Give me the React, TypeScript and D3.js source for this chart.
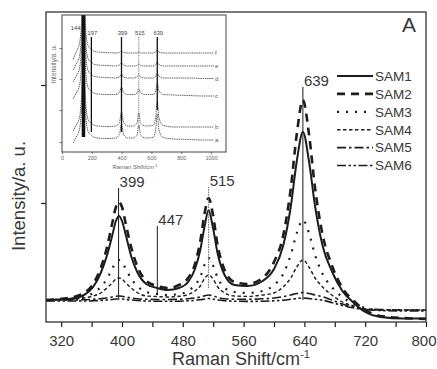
import React, { useEffect, useRef } from 'react';
import * as d3 from 'd3';

// main spectra: Raman shift (cm-1) and intensity (a.u.)
const shifts = [300, 330, 350, 362, 372, 380, 387, 392, 396, 400, 405, 412, 420, 432, 446, 460, 475, 487, 496, 503, 509, 514, 519, 526, 535, 548, 565, 585, 600, 612, 622, 630, 638, 646, 654, 664, 676, 690, 705, 720, 740, 770, 800];
const sam1 = [22, 23, 27, 35, 49, 66, 86, 101, 106, 101, 87, 66, 50, 38, 34, 32, 34, 40, 53, 72, 97, 112, 97, 68, 47, 37, 36, 41, 53, 76, 115, 161, 190, 161, 116, 76, 51, 31, 19, 10, 5, 3.5, 3.5];
const sam2 = [22, 24, 29, 38, 54, 74, 98, 115, 120, 115, 98, 75, 56, 41, 36, 34, 37, 44, 58, 81, 110, 124, 110, 76, 52, 40, 38, 44, 60, 86, 133, 188, 222, 188, 134, 87, 57, 34, 21, 12, 6, 4, 3];
const sam3 = [22, 23, 25, 29, 35, 43, 53, 60, 62, 60, 53, 43.5, 36, 30, 28, 27, 28, 31, 37, 45, 58, 64, 58, 44, 34, 30, 29, 31, 37, 48, 67, 89, 102, 89, 67, 48, 35, 25, 18, 14, 12, 12, 12];
const sam4 = [22, 22.5, 24, 26, 29, 34, 39, 43, 44, 43, 39, 34, 29.5, 26, 25.5, 25, 25.7, 27.5, 31, 36, 44, 47, 44, 35, 29, 26, 25.6, 27, 29, 35, 44, 55, 62, 55, 44, 35, 27, 20, 16, 13, 12, 12, 12];
const sam5 = [22, 22, 22.3, 22.7, 23.3, 24, 25, 25.8, 26, 25.8, 25, 24, 23.3, 22.8, 22.5, 22.5, 22.7, 23.2, 24, 25, 26.3, 27, 26.3, 24.5, 23.3, 22.8, 22.8, 23.2, 24, 25.3, 27, 28.5, 29.5, 28.5, 27, 25.3, 22, 18, 15, 13, 12.5, 12, 12];
const sam6 = [21, 21, 21, 21.2, 21.5, 22, 22.5, 23, 23, 23, 22.5, 22, 21.5, 21, 20.8, 20.8, 20.8, 21.2, 21.6, 22.3, 23, 23.5, 23, 22, 21.3, 20.8, 20.6, 20.8, 21.2, 21.8, 22.7, 23.5, 24, 23.5, 22.7, 21.8, 19.5, 16.5, 14, 12.5, 11.5, 11, 11];
const seriesNames = ['SAM1', 'SAM2', 'SAM3', 'SAM4', 'SAM5', 'SAM6'];

const xTicks = [320, 360, 400, 440, 480, 520, 560, 600, 640, 680, 720, 760, 800];
const xLabels = [320, 400, 480, 560, 640, 720, 800];
const yTicks = [119, 237];

// peak markers: label, position, bottom and top of the marker line
const peakMarks = [
  { label: '399', at: 395.5, low: 24, high: 134 },
  { label: '447', at: 446.5, low: 27, high: 96 },
  { label: '515', at: 514, low: 34, high: 135 },
  { label: '639', at: 638, low: 22, high: 235 },
];

// inset spectra a-f
const insetShifts = [75, 95, 110, 122, 132, 138, 144, 150, 158, 170, 185, 197, 210, 240, 300, 360, 385, 399, 413, 440, 480, 503, 515, 527, 560, 610, 628, 639, 650, 680, 750, 850, 950, 1020];
const insetA = [9, 15, 19, 27, 48, 83, 213, 83, 41, 23, 18, 17, 15, 14, 13.5, 14, 17.5, 28, 17.5, 14, 14, 17, 27, 17, 14, 14.5, 22, 38, 22, 14.5, 13, 12.5, 12, 12];
const insetB = [21, 27, 31, 39, 60, 95, 225, 95, 53, 35, 30, 29, 27, 26, 25.5, 26, 29.5, 40, 29.5, 26, 26, 29, 39, 29, 26, 26.5, 34, 51, 34, 26.5, 25, 25, 25, 25];
const insetC = [53, 59, 63, 71, 92, 127, 257, 127, 85, 67, 62, 61, 59, 58, 57.5, 57.5, 59.5, 65, 59.5, 57.5, 57.5, 59, 63, 59, 57.5, 57.5, 61, 69, 61, 57.5, 57, 56.5, 56, 56];
const insetD = [70, 76, 80, 88, 109, 144, 274, 144, 102, 84, 79, 78, 76, 75, 74.5, 74, 75, 78, 75, 74, 74, 75, 77, 75, 74, 74, 76, 79, 76, 74, 74, 74, 73.5, 73.5];
const insetE = [82, 88, 92, 100, 121, 156, 286, 156, 114, 96, 91, 90, 88, 87, 86.5, 86, 87, 89, 87, 86, 86, 86.5, 88, 86.5, 86, 86, 87.5, 90, 87.5, 86, 86, 86, 86, 86];
const insetF = [93, 100, 105, 113, 134, 169, 299, 169, 127, 109, 104, 103, 101, 100, 99.5, 99, 99.5, 101, 99.5, 99, 99, 99, 100, 99, 99, 99, 100, 102, 100, 99, 99, 99, 99, 99];
const insetNames = ['a', 'b', 'c', 'd', 'e', 'f'];
const insetXTicks = [0, 200, 400, 600, 800, 1000];
const insetYTicks = [10, 42, 73, 104];
const insetPeaks = [
  { label: '144', at: 144, low: 15, high: 137 },
  { label: '197', at: 197, low: 20, high: 115 },
  { label: '399', at: 399, low: 20, high: 115 },
  { label: '515', at: 515, low: 24, high: 115 },
  { label: '639', at: 639, low: 42, high: 115 },
];

const font = '"Liberation Sans", Arial, sans-serif';
const ink = '#1c1c1c';
const textInk = '#383838';

// line style per sample
const lineStyles = [
  { width: 2, dash: null },
  { width: 2.6, dash: '8 6' },
  { width: 2.2, dash: '2 7' },
  { width: 1.4, dash: '3.5 2.5' },
  { width: 1.6, dash: '9 3 2.5 3' },
  { width: 1.6, dash: '9 2.5 2.5 2.5 2.5 2.5' },
];

const RamanChart: React.FC = () => {
  const ref = useRef<SVGSVGElement>(null);

  useEffect(() => {
    const svg = d3.select(ref.current);
    svg.selectAll('*').remove();

    const plot = { left: 46, right: 426, top: 12, bottom: 322 };
    const x = d3.scaleLinear().domain([300, 800]).range([plot.left, plot.right]);
    const y = d3.scaleLinear().domain([0, 310]).range([plot.bottom, plot.top]);

    svg.append('rect').attr('width', 437).attr('height', 369).attr('fill', '#fff');

    svg
      .append('defs')
      .append('clipPath')
      .attr('id', 'main-clip')
      .append('rect')
      .attr('x', plot.left)
      .attr('y', plot.top)
      .attr('width', plot.right - plot.left)
      .attr('height', plot.bottom - plot.top);

    // spectra
    const allSeries = [sam1, sam2, sam3, sam4, sam5, sam6];
    const line = d3
      .line<number>()
      .x((_d, i) => x(shifts[i]))
      .y((d) => y(d))
      .curve(d3.curveMonotoneX);

    const curves = svg.append('g').attr('clip-path', 'url(#main-clip)');
    allSeries.forEach((values, i) => {
      curves
        .append('path')
        .attr('d', line(values))
        .attr('fill', 'none')
        .attr('stroke', ink)
        .attr('stroke-width', lineStyles[i].width)
        .attr('stroke-dasharray', lineStyles[i].dash);
    });

    // peak marker lines
    peakMarks.forEach((p) => {
      svg
        .append('line')
        .attr('x1', x(p.at))
        .attr('x2', x(p.at))
        .attr('y1', y(p.low))
        .attr('y2', y(p.high))
        .attr('stroke', p.label === '515' ? '#666' : ink)
        .attr('stroke-width', 1)
        .attr('stroke-dasharray', p.label === '515' ? '1.5 1' : null);
      svg
        .append('text')
        .attr('x', x(p.at) + 1)
        .attr('y', y(p.high) - 1)
        .attr('font-family', font)
        .attr('font-size', 15)
        .attr('fill', textInk)
        .text(p.label);
    });

    // axes
    const xAxis = d3
      .axisBottom(x)
      .tickValues(xTicks)
      .tickSize(5)
      .tickSizeOuter(0)
      .tickPadding(8)
      .tickFormat((d) => (xLabels.includes(+d) ? String(d) : ''));
    const gx = svg.append('g').attr('transform', `translate(0,${plot.bottom})`).call(xAxis);
    gx.select('.domain').remove();
    gx.selectAll('line').attr('stroke', ink).attr('stroke-width', 1.2);
    gx.selectAll('text').attr('font-family', font).attr('font-size', 15).attr('fill', textInk);
    // last label sits against the right edge of the page
    gx.selectAll<SVGTextElement, number>('text')
      .filter((d) => d === 800)
      .attr('text-anchor', 'end')
      .attr('x', 10);

    const yAxis = d3.axisLeft(y).tickValues(yTicks).tickSize(5).tickSizeOuter(0).tickFormat(() => '');
    const gy = svg.append('g').attr('transform', `translate(${plot.left},0)`).call(yAxis);
    gy.select('.domain').remove();
    gy.selectAll('line').attr('stroke', ink).attr('stroke-width', 1.2);

    svg
      .append('rect')
      .attr('x', plot.left)
      .attr('y', plot.top)
      .attr('width', plot.right - plot.left)
      .attr('height', plot.bottom - plot.top)
      .attr('fill', 'none')
      .attr('stroke', '#333')
      .attr('stroke-width', 1.3);

    // axis titles
    const xt = svg
      .append('text')
      .attr('x', 241)
      .attr('y', 365)
      .attr('text-anchor', 'middle')
      .attr('font-family', font)
      .attr('font-size', 18)
      .attr('fill', textInk)
      .text('Raman Shift/cm');
    xt.append('tspan').attr('font-size', 11).attr('dy', -7).text('-1');

    svg
      .append('text')
      .attr('transform', 'translate(25,196) rotate(-90)')
      .attr('text-anchor', 'middle')
      .attr('font-family', font)
      .attr('font-size', 18.5)
      .attr('fill', textInk)
      .text('Intensity/a. u.');

    svg
      .append('text')
      .attr('x', 409)
      .attr('y', 32)
      .attr('text-anchor', 'middle')
      .attr('font-family', font)
      .attr('font-size', 21)
      .attr('fill', textInk)
      .text('A');

    // legend
    const legend = svg.append('g');
    seriesNames.forEach((name, i) => {
      const ly = 76 + i * 17.9;
      legend
        .append('line')
        .attr('x1', 337)
        .attr('x2', 373)
        .attr('y1', ly)
        .attr('y2', ly)
        .attr('stroke', ink)
        .attr('stroke-width', lineStyles[i].width)
        .attr('stroke-dasharray', lineStyles[i].dash);
      legend
        .append('text')
        .attr('x', 375)
        .attr('y', ly)
        .attr('dy', '0.36em')
        .attr('font-family', font)
        .attr('font-size', 13.5)
        .attr('fill', textInk)
        .text(name);
    });

    // inset
    const inset = { left: 62, right: 226, top: 15, bottom: 152 };
    const ix = d3.scaleLinear().domain([0, 1100]).range([inset.left, inset.right]);
    const iy = d3.scaleLinear().domain([0, 137]).range([inset.bottom, inset.top]);

    svg
      .append('defs')
      .append('clipPath')
      .attr('id', 'inset-clip')
      .append('rect')
      .attr('x', inset.left)
      .attr('y', inset.top)
      .attr('width', inset.right - inset.left)
      .attr('height', inset.bottom - inset.top);

    svg
      .append('rect')
      .attr('x', inset.left)
      .attr('y', inset.top)
      .attr('width', inset.right - inset.left)
      .attr('height', inset.bottom - inset.top)
      .attr('fill', '#fff');

    const insetSeries = [insetA, insetB, insetC, insetD, insetE, insetF];
    const insetLine = d3
      .line<number>()
      .x((_d, i) => ix(insetShifts[i]))
      .y((d) => iy(d))
      .curve(d3.curveMonotoneX);
    const ig = svg.append('g').attr('clip-path', 'url(#inset-clip)');
    insetSeries.forEach((values) => {
      ig.append('path')
        .attr('d', insetLine(values))
        .attr('fill', 'none')
        .attr('stroke', '#555')
        .attr('stroke-width', 0.9)
        .attr('stroke-dasharray', '1.5 0.7');
    });

    insetPeaks.forEach((p) => {
      const thick = p.label === '144';
      const dotted = p.label === '515';
      svg
        .append('line')
        .attr('x1', ix(p.at))
        .attr('x2', ix(p.at))
        .attr('y1', iy(p.low))
        .attr('y2', iy(p.high))
        .attr('stroke', dotted ? '#777' : '#111')
        .attr('stroke-width', thick ? 3.5 : dotted ? 1 : 1.3)
        .attr('stroke-dasharray', dotted ? '1 0.8' : null);
      svg
        .append('text')
        .attr('x', thick ? ix(p.at) - 3 : ix(p.at) + 1)
        .attr('y', thick ? 29.5 : 35)
        .attr('text-anchor', thick ? 'end' : 'middle')
        .attr('font-family', font)
        .attr('font-size', 5.8)
        .attr('fill', '#444')
        .text(p.label);
    });

    insetNames.forEach((name, i) => {
      const vals = insetSeries[i];
      svg
        .append('text')
        .attr('x', 215)
        .attr('y', iy(vals[vals.length - 1]))
        .attr('dy', '0.35em')
        .attr('font-family', font)
        .attr('font-size', 6)
        .attr('fill', '#555')
        .text(name);
    });

    const ixAxis = d3
      .axisBottom(ix)
      .tickValues(insetXTicks)
      .tickSize(2)
      .tickSizeOuter(0)
      .tickPadding(2)
      .tickFormat(d3.format('d'));
    const gix = svg.append('g').attr('transform', `translate(0,${inset.bottom})`).call(ixAxis);
    gix.select('.domain').remove();
    gix.selectAll('line').attr('stroke', '#555').attr('stroke-width', 0.8);
    gix.selectAll('text').attr('font-family', font).attr('font-size', 5.5).attr('fill', '#666');

    const iyAxis = d3.axisLeft(iy).tickValues(insetYTicks).tickSize(2.5).tickSizeOuter(0).tickFormat(() => '');
    const giy = svg.append('g').attr('transform', `translate(${inset.left},0)`).call(iyAxis);
    giy.select('.domain').remove();
    giy.selectAll('line').attr('stroke', '#555').attr('stroke-width', 0.8);

    svg
      .append('rect')
      .attr('x', inset.left)
      .attr('y', inset.top)
      .attr('width', inset.right - inset.left)
      .attr('height', inset.bottom - inset.top)
      .attr('fill', 'none')
      .attr('stroke', '#444')
      .attr('stroke-width', 1);

    const ixt = svg
      .append('text')
      .attr('x', 135)
      .attr('y', 169)
      .attr('text-anchor', 'middle')
      .attr('font-family', font)
      .attr('font-size', 5.8)
      .attr('fill', '#666')
      .text('Raman Shift/cm');
    ixt.append('tspan').attr('font-size', 4).attr('dy', -2.5).text('-1');

    svg
      .append('text')
      .attr('transform', 'translate(56,64) rotate(-90)')
      .attr('text-anchor', 'middle')
      .attr('font-family', font)
      .attr('font-size', 6.5)
      .attr('fill', '#666')
      .text('Intensity/a. u.');
  }, []);

  return <svg ref={ref} width={437} height={369} style={{ position: 'absolute', left: 0, top: 0 }} />;
};

export default function App() {
  return <RamanChart />;
}
